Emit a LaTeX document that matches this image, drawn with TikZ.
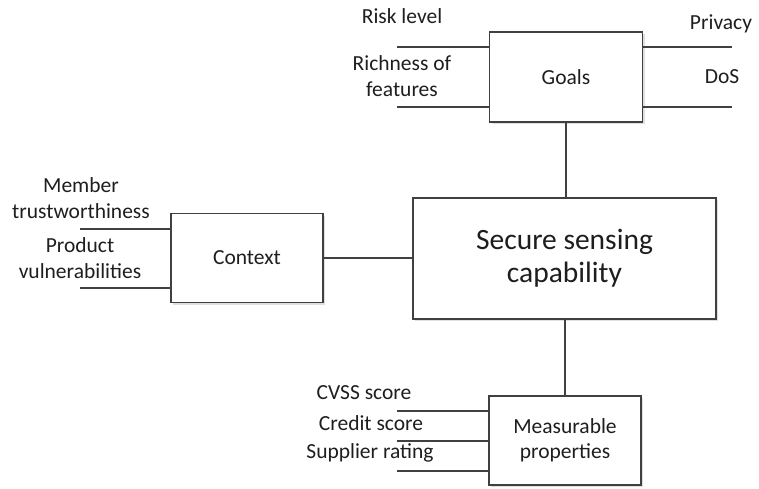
\documentclass[tikz,border=0pt]{standalone}
\usepackage{fontspec}
\setmainfont{Carlito}
\usetikzlibrary{shadows}
\definecolor{ln}{HTML}{404040}
\definecolor{tx}{HTML}{1E1E1E}
\begin{document}
\begin{tikzpicture}[x=1pt,y=-1pt,
  box/.style={draw=ln,line width=1.7pt,fill=white,inner sep=0pt,
    drop shadow={shadow xshift=2pt,shadow yshift=-2pt,opacity=0.25,fill=gray},
    text=tx,font=\fontsize{21.5}{25}\selectfont,align=center},
  lbl/.style={text=tx,font=\fontsize{21.5}{26}\selectfont,align=center,inner sep=0pt},
  wire/.style={draw=ln,line width=1.7pt}]
\useasboundingbox (0,0) rectangle (759,488);
% boxes
\node[box,minimum width=153pt,minimum height=90pt] (goals) at (566,77) {Goals};
\node[box,minimum width=152pt,minimum height=89pt] (context) at (247,258) {Context};
\node[box,minimum width=303pt,minimum height=121pt,font=\fontsize{29.5}{33}\selectfont] (secure) at (564.5,258.5) {Secure sensing\\capability};
\node[box,minimum width=152pt,minimum height=89pt] (meas) at (565,440.5) {Measurable\\properties};
% coordinates for free ends
\coordinate (g1) at (397,47);
\coordinate (g2) at (397,107);
\coordinate (g3) at (732,47);
\coordinate (g4) at (732,107);
\coordinate (c1) at (80,229);
\coordinate (c2) at (80,288);
\coordinate (m1) at (397,411);
\coordinate (m2) at (397,441);
\coordinate (m3) at (397,471);
% wires
\draw[wire] (g1) -- (goals.west |- g1);
\draw[wire] (g2) -- (goals.west |- g2);
\draw[wire] (goals.east |- g3) -- (g3);
\draw[wire] (goals.east |- g4) -- (g4);
\draw[wire] (c1) -- (context.west |- c1);
\draw[wire] (c2) -- (context.west |- c2);
\draw[wire] (m1) -- (meas.west |- m1);
\draw[wire] (m2) -- (meas.west |- m2);
\draw[wire] (m3) -- (meas.west |- m3);
\draw[wire] (goals.south) -- (goals.south |- secure.north);
\draw[wire] (context.east) -- (secure.west |- context.east);
\draw[wire] (meas.north) -- (meas.north |- secure.south);
% labels
\node[lbl] (t1) at (402,16) {Risk level};
\node[lbl] (t2) at (402,76) {Richness of\\features};
\node[lbl] (t3) at (721,24) {Privacy};
\node[lbl] (t4) at (722,77) {DoS};
\node[lbl] (t5) at (81,198.5) {Member\\trustworthiness};
\node[lbl] (t6) at (80,258.5) {Product\\vulnerabilities};
\node[lbl] (t7) at (364,393) {CVSS score};
\node[lbl] (t8) at (371,423) {Credit score};
\node[lbl] (t9) at (370,453) {Supplier rating};
\end{tikzpicture}
\end{document}
